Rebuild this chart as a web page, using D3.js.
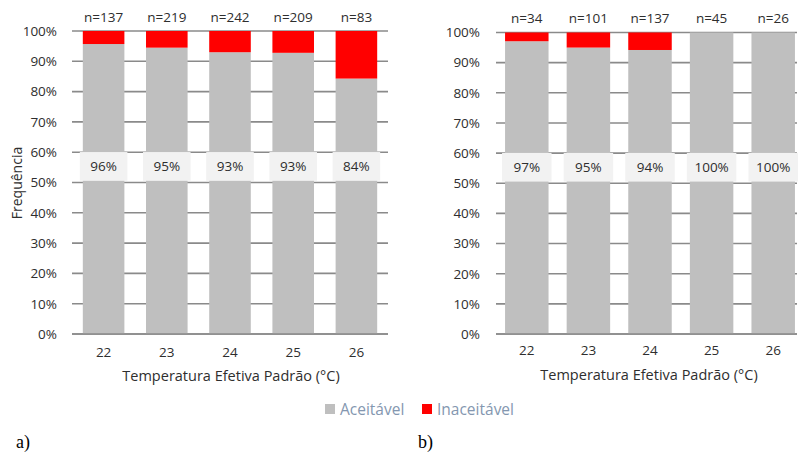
<!DOCTYPE html>
<html>
<head>
<meta charset="utf-8">
<script src="https://cdn.jsdelivr.net/npm/d3@7/dist/d3.min.js"></script>
<style>
  body { margin: 0; background: #fff; }
  svg { display: block; }
</style>
</head>
<body>
<svg id="chart" width="798" height="453"></svg>
<script>
// ---- data ----
const categories = ["22", "23", "24", "25", "26"];
const yTicks = [0, 0.1, 0.2, 0.3, 0.4, 0.5, 0.6, 0.7, 0.8, 0.9, 1.0];
const seriesNames = ["Aceitável", "Inaceitável"];

const nA = [137, 219, 242, 209, 83];
const acceptA = [0.957, 0.945, 0.930, 0.928, 0.843];

const nB = [34, 101, 137, 45, 26];
const acceptB = [0.971, 0.950, 0.942, 1.0, 1.0];

const xTitle = "Temperatura Efetiva Padrão (°C)";
const yTitle = "Frequência";
const panelLabels = ["a)", "b)"];

// ---- style ----
const GRAY = "#bfbfbf", RED = "#ff0000", GRID = "#8a8a8a", TXT = "#2e2e2e";
const FONT = '"Open Sans", "Noto Sans", sans-serif';
const FS = 13.5;
const LABEL_POS = 0.553;

const svg = d3.select("#chart").style("font-family", FONT);

function drawPanel(cfg) {
  const { n, accept, x0, x1, yBottom, yTop, tickRight, nBaseline, tickBaseline, titleBaseline, padding } = cfg;
  const x = d3.scaleBand().domain(categories).range([x0, x1]).paddingInner(padding).paddingOuter(padding / 2);
  const y = d3.scaleLinear().domain([0, 1]).range([yBottom, yTop]);
  const g = svg.append("g");

  // gridlines
  g.selectAll("line.grid").data(yTicks).join("line")
    .attr("x1", x0).attr("x2", Math.min(x1, 797))
    .attr("y1", d => y(d)).attr("y2", d => y(d))
    .attr("stroke", GRID).attr("stroke-width", 1.6);

  // y tick labels
  const yAxis = d3.axisLeft(y).tickValues(yTicks).tickFormat(d3.format(".0%")).tickSize(0).tickPadding(0);
  const ya = g.append("g").attr("transform", `translate(${tickRight},0)`).call(yAxis);
  ya.select(".domain").remove();
  ya.attr("font-family", null).attr("font-size", null);
  ya.selectAll("text").style("font-size", FS + "px").style("fill", TXT).style("font-family", FONT);

  const rows = categories.map((c, i) => ({ c, a: accept[i], n: n[i] }));

  // accept bars
  g.selectAll("rect.acc").data(rows).join("rect")
    .attr("x", d => x(d.c)).attr("width", x.bandwidth())
    .attr("y", d => y(d.a)).attr("height", d => y(0) - y(d.a))
    .attr("fill", GRAY);
  // reject bars
  g.selectAll("rect.rej").data(rows.filter(d => d.a < 1)).join("rect")
    .attr("x", d => x(d.c)).attr("width", x.bandwidth())
    .attr("y", y(1)).attr("height", d => y(d.a) - y(1))
    .attr("fill", RED);

  // label boxes
  const bh = Math.abs(y(0.5) - y(0.595));
  const lbl = g.selectAll("g.lbl").data(rows).join("g")
    .attr("transform", d => `translate(${x(d.c) + x.bandwidth() / 2},${y(LABEL_POS)})`);
  lbl.append("rect")
    .attr("x", -x.bandwidth() / 2 - 3).attr("width", x.bandwidth() + 6)
    .attr("y", -bh / 2).attr("height", bh)
    .attr("fill", "#f2f2f2");
  lbl.append("text").attr("text-anchor", "middle").attr("dy", "0.35em")
    .style("font-size", FS + "px").style("fill", TXT)
    .text(d => Math.round(d.a * 100) + "%");

  // n labels
  g.selectAll("text.n").data(rows).join("text")
    .attr("x", d => x(d.c) + x.bandwidth() / 2).attr("y", nBaseline)
    .attr("text-anchor", "middle").style("font-size", FS + "px").style("fill", TXT)
    .text(d => "n=" + d.n);

  // baseline
  g.append("line").attr("x1", x0).attr("x2", Math.min(x1, 797))
    .attr("y1", y(0)).attr("y2", y(0)).attr("stroke", GRID).attr("stroke-width", 1.6);

  // x axis labels
  const xAxis = d3.axisBottom(x).tickSize(0).tickPadding(0);
  const xa = g.append("g").attr("transform", `translate(0,${tickBaseline - 13})`).call(xAxis);
  xa.select(".domain").remove();
  xa.attr("font-family", null).attr("font-size", null);
  xa.selectAll("text").style("font-size", FS + "px").style("fill", TXT).style("font-family", FONT);

  // x title
  g.append("text").attr("x", cfg.titleX).attr("y", titleBaseline).attr("text-anchor", "middle")
    .style("font-size", "14.5px").style("fill", TXT).text(xTitle);
  return { x, y };
}

drawPanel({ n: nA, accept: acceptA, x0: 72, x1: 388, yBottom: 334, yTop: 31, tickRight: 57,
  nBaseline: 22, tickBaseline: 360, titleBaseline: 381, padding: 0.342, titleX: 231 });
drawPanel({ n: nB, accept: acceptB, x0: 496, x1: 804, yBottom: 334, yTop: 32.5, tickRight: 480,
  nBaseline: 23, tickBaseline: 358, titleBaseline: 380, padding: 0.294, titleX: 649 });

// y title
svg.append("text").attr("transform", "translate(22,183) rotate(-90)")
  .attr("text-anchor", "middle").style("font-size", "14px").style("fill", TXT).text(yTitle);

// legend
const legend = svg.append("g");
const legItems = [{ name: seriesNames[0], color: GRAY, x: 325 }, { name: seriesNames[1], color: RED, x: 422 }];
legend.selectAll("rect").data(legItems).join("rect")
  .attr("x", d => d.x).attr("y", 404).attr("width", 10).attr("height", 10).attr("fill", d => d.color);
legend.selectAll("text").data(legItems).join("text")
  .attr("x", d => d.x + 15).attr("y", 415).style("font-size", "15.5px").style("fill", "#8497b0")
  .text(d => d.name);

// panel labels
svg.selectAll("text.panel").data(panelLabels).join("text")
  .attr("x", (d, i) => i === 0 ? 16 : 418).attr("y", 448)
  .style("font-family", '"Liberation Serif", "Times New Roman", serif')
  .style("font-size", "18px").style("fill", "#000").text(d => d);
</script>
</body>
</html>
